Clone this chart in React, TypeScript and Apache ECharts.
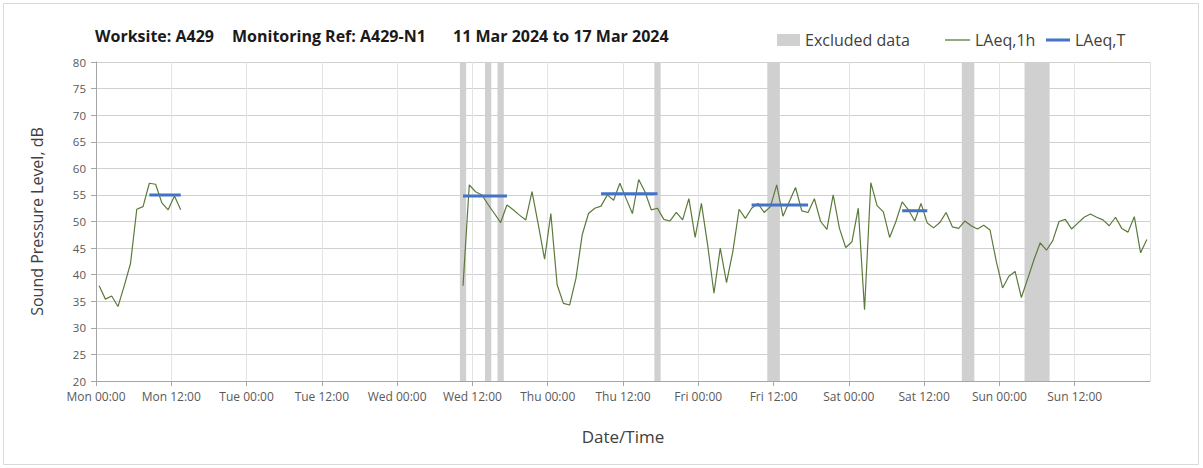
import React, { useEffect, useRef } from 'react';
import * as echarts from 'echarts';

const dayNames = ['Mon', 'Tue', 'Wed', 'Thu', 'Fri', 'Sat', 'Sun'];
const yTicks = { min: 20, max: 80, step: 5 };

// LAeq,1h hourly values (hour index = hours since Mon 00:00)
const laeq1hMonStart = 0;
const laeq1hMon = [37.9, 35.4, 36.0, 34.0, 37.9, 42.1, 52.3, 52.8, 57.2, 57.0, 53.5, 52.2, 54.8, 52.2];
const laeq1hWedStart = 58;
const laeq1hWedToSun = [
  37.9, 56.9, 55.6, 55.0, 53.2, 51.5, 49.8, 53.1, 52.2, 51.2, 50.3, 55.6, 49.4, 42.9, 51.5, 38.1,
  34.6, 34.3, 39.3, 47.5, 51.5, 52.5, 52.9, 55.0, 54.0, 57.2, 54.3, 51.5, 57.9, 55.6, 52.2, 52.5,
  50.4, 50.1, 51.7, 50.3, 54.3, 47.0, 53.4, 45.5, 36.5, 45.0, 38.5, 44.3, 52.3, 50.6, 52.5, 53.4,
  51.7, 52.8, 56.9, 51.0, 53.7, 56.4, 52.0, 51.7, 54.3, 50.0, 48.5, 55.0, 48.7, 45.1, 46.2, 52.5,
  33.4, 57.3, 53.0, 51.8, 47.0, 50.0, 53.7, 52.2, 50.1, 53.4, 49.7, 48.8, 49.8, 51.7, 49.0, 48.7,
  50.1, 49.2, 48.6, 49.3, 48.4, 42.5, 37.5, 39.7, 40.6, 35.7, 39.2, 42.8, 46.0, 44.6, 46.4, 50.0,
  50.4, 48.6, 49.7, 50.8, 51.4, 50.8, 50.3, 49.2, 50.8, 48.7, 48.0, 50.9, 44.1, 46.6,
];

// LAeq,T periods (first hour, last hour, value)
const laeqTStart = [8, 58, 80, 104, 128];
const laeqTEnd = [13, 65, 89, 113, 132];
const laeqTValue = [55.0, 54.8, 55.2, 53.1, 52.0];

// Excluded data periods (hour ranges)
const excludedStart = [58, 62, 64, 89, 107, 138, 148];
const excludedEnd = [59, 63, 65, 90, 109, 140, 152];

const FONT = '"Open Sans", "Noto Sans", sans-serif';

function buildLine() {
  const out: any[] = [];
  const segs = [
    { start: laeq1hMonStart, vals: laeq1hMon },
    { start: laeq1hWedStart, vals: laeq1hWedToSun },
  ];
  segs.forEach((s, k) => {
    s.vals.forEach((v, j) => out.push([s.start + j + 0.5, v]));
    if (k < segs.length - 1) out.push([s.start + s.vals.length + 0.5, '-']);
  });
  return out;
}

function buildT() {
  const out: any[] = [];
  laeqTStart.forEach((s, k) => {
    out.push([s + 0.5, laeqTValue[k]]);
    out.push([laeqTEnd[k] + 0.5, laeqTValue[k]]);
    out.push([laeqTEnd[k] + 1, '-']);
  });
  return out;
}

export default function App() {
  const ref = useRef<HTMLDivElement>(null);
  useEffect(() => {
    if (!ref.current) return;
    const chart = echarts.init(ref.current, null, { renderer: 'svg' });
    const legendText = { fontFamily: FONT, fontSize: 16, color: '#404040' };
    const titleFont = `bold 16px ${FONT}`;
    chart.setOption({
      animation: false,
      backgroundColor: '#ffffff',
      textStyle: { fontFamily: FONT },
      graphic: [
        { type: 'rect', shape: { x: 3.5, y: 3.5, width: 1195, height: 461 }, style: { fill: 'none', stroke: '#d9d9d9', lineWidth: 1 }, silent: true },
        { type: 'text', x: 95, y: 36, style: { text: 'Worksite: A429', font: titleFont, fill: '#1a1a1a', textVerticalAlign: 'middle' } },
        { type: 'text', x: 232, y: 36, style: { text: 'Monitoring Ref: A429-N1', font: titleFont, fill: '#1a1a1a', textVerticalAlign: 'middle' } },
        { type: 'text', x: 453, y: 36, style: { text: '11 Mar 2024 to 17 Mar 2024', font: titleFont, fill: '#1a1a1a', textVerticalAlign: 'middle' } },
      ],
      legend: [
        { data: [{ name: 'Excluded data', icon: 'rect' }], left: 772, top: 27, itemWidth: 23, itemHeight: 12, textStyle: legendText },
        { data: [{ name: 'LAeq,1h', icon: 'rect' }], left: 940, top: 27, itemWidth: 25, itemHeight: 1.3, textStyle: legendText },
        { data: [{ name: 'LAeq,T', icon: 'rect' }], left: 1041, top: 27, itemWidth: 24, itemHeight: 3, textStyle: legendText },
      ],
      grid: { left: 96, right: 53, top: 62, bottom: 87, containLabel: false },
      xAxis: {
        type: 'value',
        min: 0,
        max: 168,
        interval: 12,
        name: 'Date/Time',
        nameLocation: 'middle',
        nameGap: 47,
        nameTextStyle: { fontFamily: FONT, fontSize: 17, color: '#404040' },
        axisLine: { show: true, onZero: false, lineStyle: { color: '#a6a6a6' } },
        axisTick: { show: true, length: 5, lineStyle: { color: '#a6a6a6' } },
        axisLabel: {
          fontFamily: FONT,
          fontSize: 12,
          color: '#595959',
          margin: 9,
          showMaxLabel: false,
          formatter: (v: number) => {
            if (v >= 168) return '';
            const d = dayNames[Math.floor(v / 24)];
            return `${d} ${v % 24 === 0 ? '00' : '12'}:00`;
          },
        },
        splitLine: { show: true, lineStyle: { color: '#e3e3e3', width: 1 } },
      },
      yAxis: {
        type: 'value',
        min: yTicks.min,
        max: yTicks.max,
        interval: yTicks.step,
        name: 'Sound Pressure Level, dB',
        nameLocation: 'middle',
        nameGap: 51,
        nameTextStyle: { fontFamily: FONT, fontSize: 16, color: '#404040' },
        axisLine: { show: true, lineStyle: { color: '#a6a6a6' } },
        axisTick: { show: true, length: 5, lineStyle: { color: '#a6a6a6' } },
        axisLabel: { fontFamily: FONT, fontSize: 11.5, color: '#595959', margin: 10 },
        splitLine: { show: true, lineStyle: { color: '#d0d0d0', width: 1 } },
      },
      series: [
        {
          name: 'Excluded data',
          type: 'line',
          data: [],
          z: 1,
          itemStyle: { color: '#d0d0d0' },
          lineStyle: { color: '#d0d0d0' },
          markArea: {
            silent: true,
            itemStyle: { color: '#d0d0d0', opacity: 1 },
            data: excludedStart.map((s, k) => [{ xAxis: s }, { xAxis: excludedEnd[k] }]),
          },
        },
        {
          name: 'LAeq,1h',
          type: 'line',
          data: buildLine(),
          showSymbol: false,
          symbol: 'none',
          connectNulls: false,
          z: 3,
          itemStyle: { color: '#5b7a3c' },
          lineStyle: { color: '#5b7a3c', width: 1.2 },
        },
        {
          name: 'LAeq,T',
          type: 'line',
          data: buildT(),
          showSymbol: false,
          symbol: 'none',
          connectNulls: false,
          z: 4,
          itemStyle: { color: '#4472c4' },
          lineStyle: { color: '#4472c4', width: 3 },
        },
      ],
    });
    return () => chart.dispose();
  }, []);
  return <div ref={ref} style={{ position: 'fixed', left: 0, top: 0, width: 1203, height: 468 }} />;
}
